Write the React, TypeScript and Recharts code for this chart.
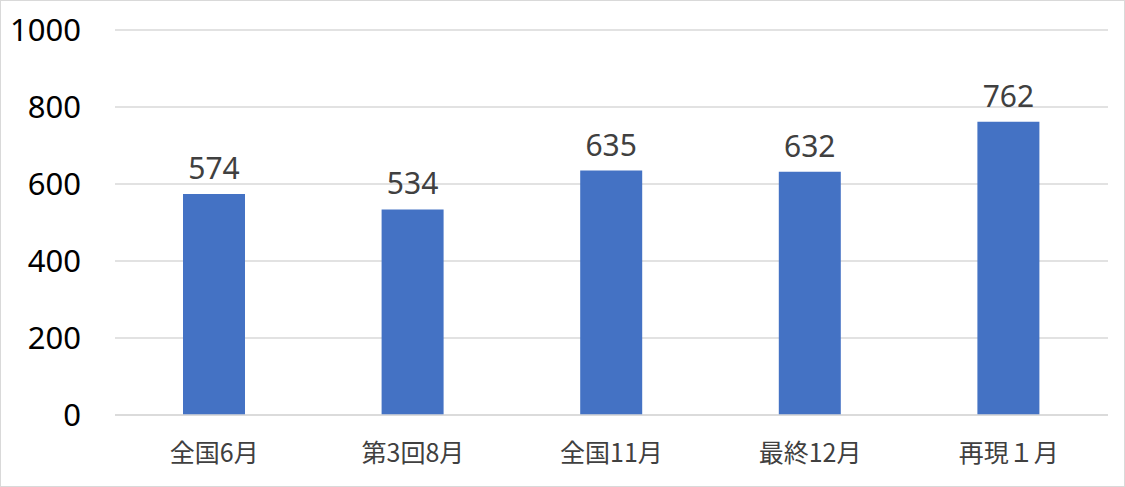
import { Bar, BarChart, CartesianGrid, LabelList, XAxis, YAxis } from 'recharts'

// Values
const categories = ['全国6月', '第3回8月', '全国11月', '最終12月', '再現１月']
const counts = [574, 534, 635, 632, 762]
const yTicks = [0, 200, 400, 600, 800, 1000]

const data = categories.map((name, i) => ({ name, count: counts[i] }))

export default function App() {
  return (
    <div
      style={{
        position: 'absolute',
        top: 0,
        left: 0,
        width: 1125,
        height: 487,
        boxSizing: 'border-box',
        border: '1px solid #d9d9d9',
        background: '#fff',
      }}
    >
      <div style={{ position: 'absolute', top: -1, left: -1 }}>
        <BarChart
          width={1125}
          height={487}
          data={data}
          margin={{ top: 30, right: 17, left: 0, bottom: 42 }}
        >
          <CartesianGrid vertical={false} stroke="#d9d9d9" strokeWidth={1.5} />
          <XAxis
            dataKey="name"
            axisLine={{ stroke: '#d9d9d9', strokeWidth: 1.5 }}
            tickLine={false}
            tickSize={0}
            tickMargin={29}
            height={30}
            interval={0}
            tick={{ fill: '#404040', fontSize: 25, fontFamily: '"Noto Sans CJK JP", sans-serif' }}
          />
          <YAxis
            domain={[0, 1000]}
            ticks={yTicks}
            width={115}
            axisLine={false}
            tickLine={false}
            tickSize={0}
            tickMargin={34}
            tick={{ fill: '#000', fontSize: 31, fontFamily: '"Noto Sans", sans-serif' }}
          />
          <Bar dataKey="count" fill="#4472c4" barSize={62} isAnimationActive={false}>
            <LabelList
              dataKey="count"
              position="top"
              offset={15}
              fill="#404040"
              fontSize={30}
              fontFamily='"Noto Sans", sans-serif'
            />
          </Bar>
        </BarChart>
      </div>
    </div>
  )
}
